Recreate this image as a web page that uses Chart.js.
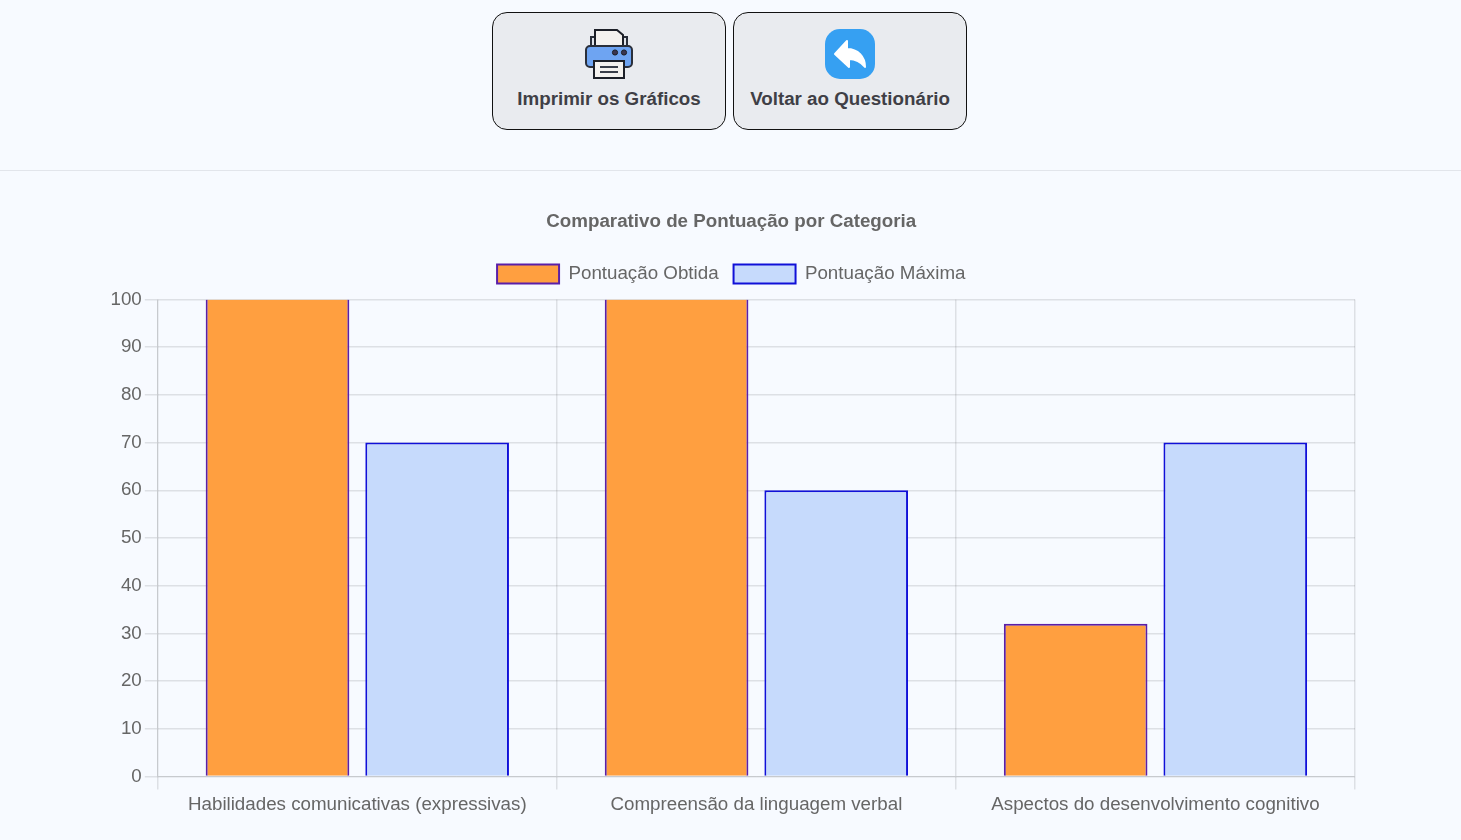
<!DOCTYPE html>
<html lang="pt">
<head>
<meta charset="utf-8">
<title>Comparativo de Pontuação por Categoria</title>
<script src="https://cdn.jsdelivr.net/npm/chart.js@4"></script>
<style>
  html, body { margin: 0; padding: 0; background: #f7faff; overflow: hidden; }
  body { width: 1461px; height: 840px; position: relative; font-family: "Liberation Sans", Arial, sans-serif; }
  .actions { position: absolute; top: 12px; left: 492px; display: flex; gap: 7px; }
  .action {
    box-sizing: border-box; width: 234px; height: 118px;
    background: #e9ebef; border: 1.5px solid #111; border-radius: 15px;
    display: flex; flex-direction: column; align-items: center;
    padding-top: 15.5px; color: #3f3f46; font-size: 18.75px; font-weight: 700;
  }
  .action svg { width: 50px; height: 50px; display: block; }
  .action span { margin-top: 8px; line-height: 24px; white-space: nowrap; }
  .rule { position: absolute; left: 0; right: 0; top: 170px; height: 1px; background: #e2e5eb; }
  .chart-box { position: absolute; left: 100px; top: 196px; width: 1261px; height: 634px; }
</style>
</head>
<body>
<div class="actions">
  <div class="action">
    <svg viewBox="0 0 50 50" aria-hidden="true">
      <path d="M7 20V8h36v12z" fill="#dfe3ea" stroke="#2a2f3a" stroke-width="2"/>
      <path d="M11 20V1h22l6 5v14z" fill="#f4f2ef" stroke="#1d2028" stroke-width="2"/>
      <rect x="2" y="17" width="46" height="21" rx="4" fill="#6ea4f2" stroke="#2a2f3a" stroke-width="2"/>
      <circle cx="31" cy="23.5" r="2.6" fill="#3a3550" stroke="#1d2028"/>
      <circle cx="40" cy="23.5" r="2.6" fill="#3a3550" stroke="#1d2028"/>
      <rect x="10" y="32" width="30" height="17" fill="#f4f2ef" stroke="#1d2028" stroke-width="2"/>
      <path d="M16 38h18M16 43h18" stroke="#3a3f4a" stroke-width="2"/>
    </svg>
    <span>Imprimir os Gráficos</span>
  </div>
  <div class="action">
    <svg viewBox="0 0 50 50" aria-hidden="true">
      <rect width="50" height="50" rx="15" fill="#36a0f2"/>
      <path d="M10 25 L22 12 V20 C33 20 40 28 40 38 C36 33 31 30 24 30 V38 Z" fill="#fff" stroke="#fff" stroke-width="2" stroke-linejoin="round"/>
    </svg>
    <span>Voltar ao Questionário</span>
  </div>
</div>
<div class="rule"></div>
<div class="chart-box"><canvas id="scores"></canvas></div>
<script>
const categories = [
  'Habilidades comunicativas (expressivas)',
  'Compreensão da linguagem verbal',
  'Aspectos do desenvolvimento cognitivo'
];
const obtainedScores = [100, 100, 32];
const maximumScores = [70, 60, 70];
const seriesNames = ['Pontuação Obtida', 'Pontuação Máxima'];
const chartTitle = 'Comparativo de Pontuação por Categoria';
const axisMax = 100;

Chart.defaults.font.family = '"Liberation Sans", Arial, sans-serif';
Chart.defaults.font.size = 18.75;
Chart.defaults.color = '#666';

// Bars reaching the top of the axis run into the plot edge, so they get no cap line.
const barBorder = ctx => ({ top: ctx.raw >= axisMax ? 0 : 2, left: 2, right: 2, bottom: 0 });

// Leaves a little extra room between the legend and the plot.
const legendGap = {
  id: 'legendGap',
  beforeInit(chart) {
    const fit = chart.legend.fit;
    chart.legend.fit = function () {
      fit.call(this);
      this.height += 6;
    };
  }
};

new Chart(document.getElementById('scores'), {
  type: 'bar',
  plugins: [legendGap],
  data: {
    labels: categories,
    datasets: [
      { label: seriesNames[0], data: obtainedScores, backgroundColor: '#ff9f40', borderColor: '#5a1fa8', borderWidth: barBorder },
      { label: seriesNames[1], data: maximumScores, backgroundColor: '#c6dafc', borderColor: '#1010d8', borderWidth: barBorder }
    ]
  },
  options: {
    responsive: true,
    maintainAspectRatio: false,
    animation: false,
    layout: { padding: { left: 7.5, right: 6, top: 0, bottom: 10 } },
    plugins: {
      title: {
        display: true, text: chartTitle, color: '#666',
        font: { size: 18.75, weight: 'bold' }, padding: { top: 15, bottom: 16 }
      },
      legend: {
        labels: {
          boxWidth: 62, boxHeight: 19, padding: 15, color: '#666', font: { size: 18.75 },
          generateLabels(chart) {
            return Chart.defaults.plugins.legend.labels.generateLabels(chart).map(item => ({ ...item, lineWidth: 2 }));
          }
        }
      },
      tooltip: { enabled: false }
    },
    scales: {
      x: {
        grid: { lineWidth: 1.5, tickLength: 13 },
        ticks: { padding: 4, font: { size: 18.75 } }
      },
      y: {
        min: 0, max: axisMax,
        grid: { lineWidth: 1.5, tickLength: 13 },
        ticks: { stepSize: 10, padding: 3, font: { size: 18.75 } }
      }
    }
  }
});
</script>
</body>
</html>
